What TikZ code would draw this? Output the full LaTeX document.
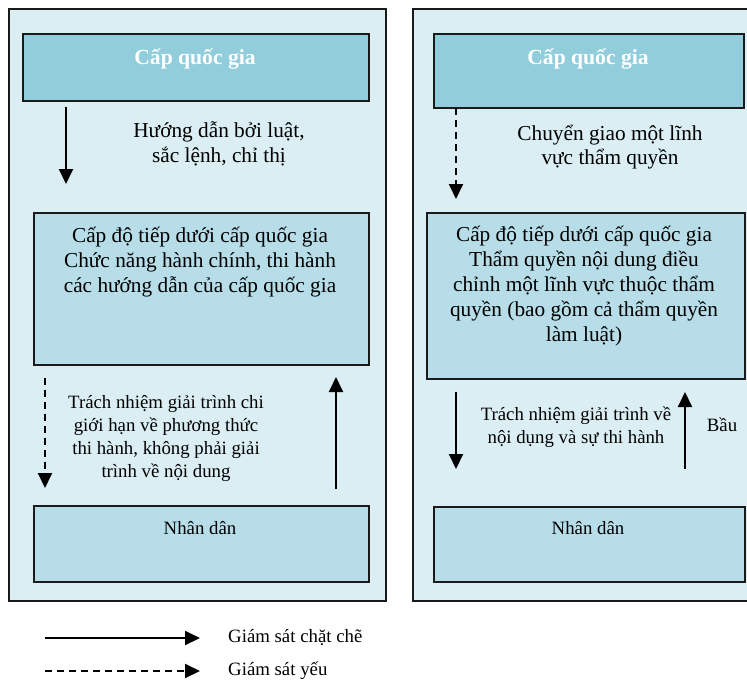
\documentclass[tikz,border=0pt]{standalone}
\usepackage{fontspec}
\setmainfont{Liberation Serif}
\usetikzlibrary{arrows.meta}
\definecolor{panelfill}{HTML}{DAEEF3}
\definecolor{topfill}{HTML}{92CDDC}
\definecolor{boxfill}{HTML}{B6DDE8}
\definecolor{edgecol}{HTML}{1A1A1A}
\begin{document}
\begin{tikzpicture}[x=1pt,y=-1pt,
  panel/.style={draw=edgecol,line width=1.7pt,fill=panelfill,anchor=north west,inner sep=0pt},
  topbox/.style={draw=edgecol,line width=1.7pt,fill=topfill,anchor=north west,inner sep=0pt},
  subbox/.style={draw=edgecol,line width=1.5pt,fill=boxfill,anchor=north west,inner sep=0pt},
  bigtext/.style={inner sep=0pt,align=center,font=\fontsize{21.3}{24.8}\selectfont},
  smalltext/.style={inner sep=0pt,align=center,font=\fontsize{18.8}{23}\selectfont},
  titletext/.style={inner sep=0pt,text=white,font=\fontsize{21.6}{25}\selectfont\bfseries},
  strong/.style={line width=2pt,-{Triangle[width=14pt,length=15pt]}},
  weak/.style={strong,dash pattern=on 7pt off 5pt}]
\useasboundingbox (0,0) rectangle (747,693);
\clip (0,0) rectangle (747,693);

% two panels
\node[panel,minimum width=377pt,minimum height=592pt] (panelL) at (8,8) {};
\node[panel,minimum width=360pt,minimum height=592pt] (panelR) at (412,8) {};

% left panel: administrative decentralisation
\node[topbox,minimum width=346pt,minimum height=67pt] (topL) at (22,33) {};
\node[subbox,minimum width=335pt,minimum height=152pt] (midL) at (33,212) {};
\node[subbox,minimum width=335pt,minimum height=76pt] (botL) at (33,505) {};

% right panel: devolution
\node[topbox,minimum width=310pt,minimum height=74pt] (topR) at (433,33) {};
\node[subbox,minimum width=318pt,minimum height=166pt] (midR) at (426,212) {};
\node[subbox,minimum width=311pt,minimum height=75pt] (botR) at (433,506) {};

% texts
\node[titletext] (ttlL) at (195,59) {Cấp quốc gia};
\node[titletext] (ttlR) at (588,59) {Cấp quốc gia};
\node[bigtext] (hintL) at (219,144) {Hướng dẫn bởi luật,\\sắc lệnh, chỉ thị};
\node[bigtext] (midLtext) at (200,262) {Cấp độ tiếp dưới cấp quốc gia\\Chức năng hành chính, thi hành\\các hướng dẫn của cấp quốc gia};
\node[smalltext] (accL) at (166,438) {Trách nhiệm giải trình chi\\giới hạn về phương thức\\thi hành, không phải giải\\trình về nội dung};
\node[smalltext] (peopleL) at (200,528) {Nhân dân};

\node[bigtext] (hintR) at (610,147) {Chuyển giao một lĩnh\\vực thẩm quyền};
\node[bigtext] (midRtext) at (584,286) {Cấp độ tiếp dưới cấp quốc gia\\Thẩm quyền nội dung điều\\chỉnh một lĩnh vực thuộc thẩm\\quyền (bao gồm cả thẩm quyền\\làm luật)};
\node[smalltext] (accR) at (576,427) {Trách nhiệm giải trình về\\nội dụng và sự thi hành};
\node[smalltext] (elect) at (722,425) {Bầu};
\node[smalltext] (peopleR) at (588,528) {Nhân dân};

% arrow end points
\coordinate (l1a) at (66,107);  \coordinate (l1b) at (66,184);
\coordinate (l2a) at (45,378);  \coordinate (l2b) at (45,488);
\coordinate (l3a) at (336,489); \coordinate (l3b) at (336,377);
\coordinate (r1a) at (456,108); \coordinate (r1b) at (456,199);
\coordinate (r2a) at (456,392); \coordinate (r2b) at (456,469);
\coordinate (r3a) at (685,469); \coordinate (r3b) at (685,392);

\draw[strong] (l1a) -- (l1b);
\draw[weak] (l2a) -- (l2b);
\draw[strong] (l3a) -- (l3b);
\draw[weak] (r1a) -- (r1b);
\draw[strong] (r2a) -- (r2b);
\draw[strong] (r3a) -- (r3b);

% legend
\coordinate (legAa) at (45,638); \coordinate (legAb) at (200,638);
\coordinate (legBa) at (45,671); \coordinate (legBb) at (200,671);
\draw[strong] (legAa) -- (legAb);
\draw[weak] (legBa) -- (legBb);
\node[smalltext,anchor=west] (legA) at (228,638) {Giám sát chặt chẽ};
\node[smalltext,anchor=west] (legB) at (228,671) {Giám sát yếu};
\end{tikzpicture}
\end{document}
